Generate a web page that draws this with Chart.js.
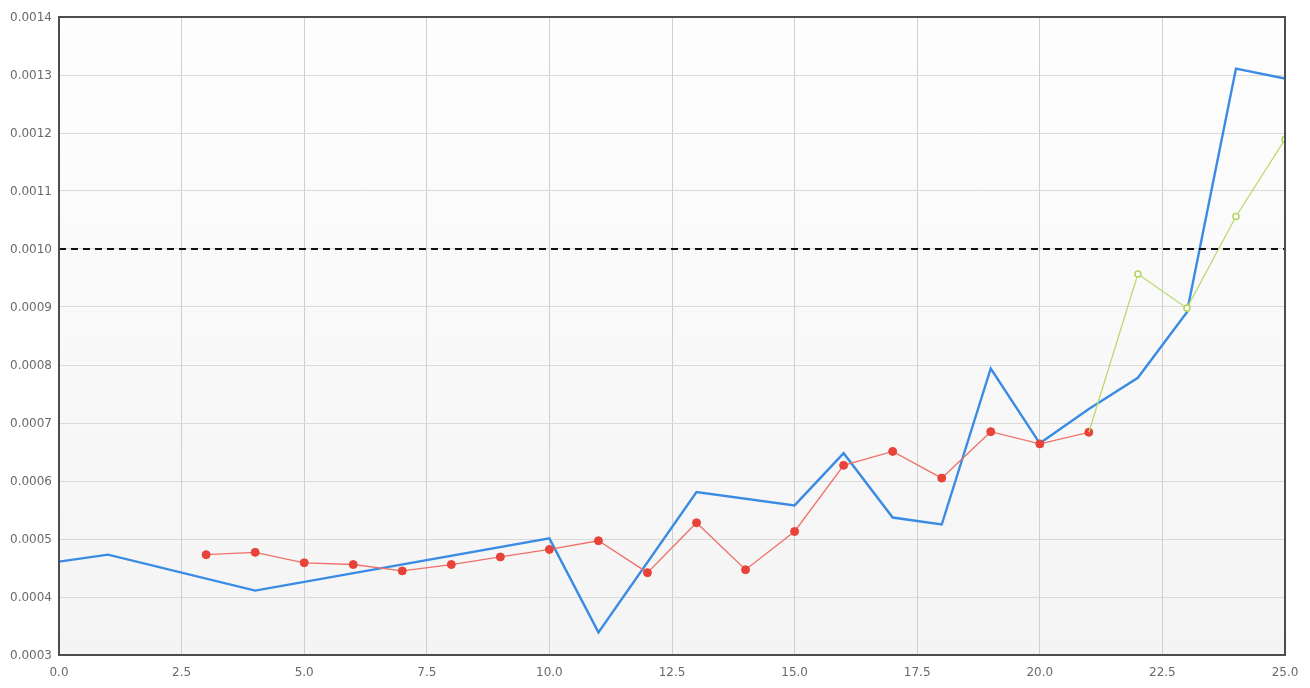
<!DOCTYPE html>
<html>
<head>
<meta charset="utf-8">
<script src="https://cdn.jsdelivr.net/npm/chart.js@4/dist/chart.umd.min.js"></script>
<style>
  body { margin: 0; background: #fff; }
  #wrap { width: 1310px; height: 688px; }
</style>
</head>
<body>
<div id="wrap"><canvas id="chart"></canvas></div>
<script>
// blue series
let blueX = [0, 1, 4, 10, 11, 13, 15, 16, 17, 18, 19, 20, 21, 22, 23, 24, 25];
let blueY = [0.000461, 0.000473, 0.000411, 0.000501, 0.000339, 0.000581, 0.000558, 0.000648, 0.000537,
  0.000525, 0.000794, 0.000665, 0.000724, 0.000778, 0.000891, 0.001311, 0.001294];

// red series
let redX = [3, 4, 5, 6, 7, 8, 9, 10, 11, 12, 13, 14, 15, 16, 17, 18, 19, 20, 21];
let redY = [0.000473, 0.000477, 0.000459, 0.000456, 0.000445, 0.000456, 0.000469, 0.000482, 0.000497,
  0.000442, 0.000528, 0.000447, 0.000513, 0.000627, 0.000651, 0.000605, 0.000685, 0.000664, 0.000684];

// green series
let greenX = [21, 22, 23, 24, 25];
let greenY = [0.000684, 0.000957, 0.000898, 0.001056, 0.001189];

// limit line
let limitX = [0, 25];
let limitY = [0.001, 0.001];

function pts(xs, ys) {
  return xs.map(function (x, i) { return { x: x, y: ys[i] }; });
}

const plotBg = {
  id: 'plotBg',
  beforeDraw(chart) {
    const a = chart.chartArea, ctx = chart.ctx;
    const g = ctx.createLinearGradient(0, a.top, 0, a.bottom);
    g.addColorStop(0, '#fefefe');
    g.addColorStop(1, '#f4f4f4');
    ctx.save();
    ctx.fillStyle = g;
    ctx.fillRect(a.left, a.top, a.right - a.left, a.bottom - a.top);
    ctx.restore();
  },
  afterDraw(chart) {
    const a = chart.chartArea, ctx = chart.ctx;
    ctx.save();
    ctx.strokeStyle = '#4d4d4d';
    ctx.lineWidth = 2;
    ctx.strokeRect(a.left, a.top, a.right - a.left, a.bottom - a.top);
    ctx.restore();
  }
};

Chart.defaults.font.family = 'Verdana, "DejaVu Sans", sans-serif';
Chart.defaults.font.size = 12;
Chart.defaults.color = '#6a6a6a';

new Chart(document.getElementById('chart'), {
  type: 'line',
  data: {
    datasets: [
      {
        data: pts(limitX, limitY),
        borderColor: '#111',
        borderWidth: 2,
        borderDash: [7, 5],
        pointRadius: 0
      },
      {
        data: pts(greenX, greenY),
        borderColor: '#b9db6f',
        borderWidth: 1.3,
        pointRadius: [0, 3, 3, 3, 3],
        pointBackgroundColor: '#ffffff',
        pointBorderColor: '#b2d660',
        pointBorderWidth: 1.6
      },
      {
        data: pts(redX, redY),
        borderColor: '#ef7068',
        borderWidth: 1.3,
        pointRadius: 4,
        pointBackgroundColor: '#e8433a',
        pointBorderColor: '#e8433a',
        pointBorderWidth: 1
      },
      {
        data: pts(blueX, blueY),
        borderColor: '#3a8be3',
        borderWidth: 2.4,
        pointRadius: 0
      }
    ]
  },
  options: {
    responsive: true,
    maintainAspectRatio: false,
    animation: false,
    layout: { padding: { top: 17, right: 25, left: 0, bottom: 0 } },
    plugins: { legend: { display: false }, tooltip: { enabled: false } },
    scales: {
      x: {
        type: 'linear',
        min: 0,
        max: 25,
        afterFit(scale) { scale.height = 33; },
        ticks: {
          stepSize: 2.5,
          padding: 11,
          callback: function (v) { return v.toFixed(1); }
        },
        grid: { color: '#cfcfcf', drawTicks: false },
        border: { display: false }
      },
      y: {
        min: 0.0003,
        max: 0.0014,
        afterFit(scale) { scale.width = 59; },
        ticks: {
          stepSize: 0.0001,
          padding: 7,
          labelOffset: 1,
          callback: function (v) { return v.toFixed(4); }
        },
        grid: { color: '#dadada', drawTicks: false },
        border: { display: false }
      }
    }
  },
  plugins: [plotBg]
});
</script>
</body>
</html>
